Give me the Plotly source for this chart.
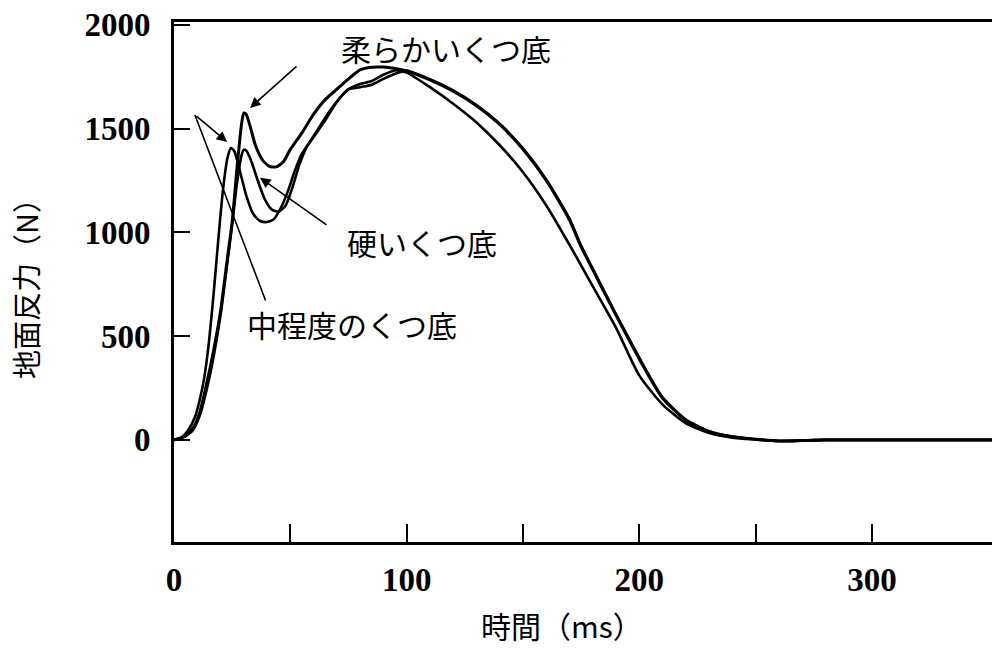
import plotly.graph_objects as go

# ---- data (time in ms, ground reaction force in N) ----
soft_t = [0, 4, 8, 11, 14, 17, 20, 23, 25, 27, 29, 30, 31, 33, 35, 38, 41, 44, 47, 50, 55, 60, 65, 70, 75, 80, 85,
          90, 95, 100, 110, 120, 130, 140, 150, 160, 170, 175, 180, 190, 200, 205, 210, 220, 230, 240, 250, 260,
          270, 280, 300, 352]
soft_f = [0, 15, 55, 130, 270, 430, 620, 880, 1050, 1300, 1520, 1576, 1570, 1500, 1420, 1350, 1318, 1316, 1340,
          1400, 1480, 1570, 1640, 1690, 1740, 1783, 1796, 1797, 1790, 1778, 1735, 1680, 1610, 1520, 1400, 1250,
          1060, 930, 820, 600, 390, 290, 200, 95, 40, 15, 3, -5, -3, 0, 0, 0]

hard_t = [0, 4, 8, 11, 14, 17, 20, 23, 25, 27, 29, 30, 31, 33, 36, 39, 42, 45, 48, 51, 54, 57, 60, 65, 70, 75, 80,
          85, 90, 95, 100, 110, 120, 130, 140, 150, 160, 170, 175, 180, 190, 200, 205, 210, 220, 230, 240, 250,
          260, 270, 280, 300, 352]
hard_f = [0, 12, 45, 115, 240, 400, 600, 860, 1040, 1230, 1370, 1398, 1395, 1350, 1250, 1160, 1110, 1100, 1130,
          1220, 1330, 1410, 1460, 1540, 1630, 1690, 1715, 1730, 1760, 1780, 1780, 1738, 1684, 1614, 1524, 1405,
          1255, 1065, 935, 825, 605, 395, 295, 205, 98, 42, 16, 3, -5, -3, 0, 0, 0]

mid_t = [0, 3, 6, 9, 11, 13, 15, 17, 19, 21, 23, 24.5, 26, 28, 31, 34, 37, 40, 43, 46, 49, 52, 55, 58, 62, 66,
         70, 75, 80, 85, 90, 95, 98, 100, 110, 120, 130, 140, 150, 160, 170, 180, 190, 200, 210, 220, 230, 240,
         250, 260, 270, 280, 300, 352]
mid_f = [0, 10, 45, 110, 190, 300, 470, 700, 960, 1200, 1360, 1407, 1390, 1310, 1180, 1090, 1055, 1050, 1065,
         1120, 1200, 1300, 1380, 1430, 1500, 1570, 1630, 1690, 1700, 1712, 1740, 1765, 1775, 1770, 1700, 1620,
         1530, 1420, 1290, 1130, 940, 740, 540, 310, 170, 80, 33, 11, 2, -5, -3, 0, 0, 0]

x_tickvals = [0, 50, 100, 150, 200, 250, 300]
x_ticktext = ["0", "", "100", "", "200", "", "300"]
y_tickvals = [0, 500, 1000, 1500, 2000]
y_ticktext = ["0", "500", "1000", "1500", "2000"]

labels = ["柔らかいくつ底", "硬いくつ底", "中程度のくつ底"]
label_pos = [(117, 1889), (106.7, 954), (76.6, 559)]
# arrows: (tip x, tip y, tail x, tail y, head)
arrows = [(32.7, 1600, 53.3, 1807, 2), (37.0, 1263, 66.2, 1031, 2),
          (22.8, 1436, 9.0, 1566, 2), (9.0, 1566, 39.6, 665, 0)]

JP = "Noto Sans CJK JP"
NUM = "Liberation Serif"

# page body adds an 8px offset; figure is sized/margined to compensate
OFF = 8
W, H = 1000 - OFF, 650 - OFF
ml, mr, mt, mb = 174 - OFF, 7, 22 - OFF, 108
pw, ph = W - ml - mr, H - mt - mb

fig = go.Figure()
for t, f, w, name in [(mid_t, mid_f, 2.6, labels[2]), (hard_t, hard_f, 2.6, labels[1]), (soft_t, soft_f, 3.0, labels[0])]:
    fig.add_trace(go.Scatter(x=t, y=f, mode="lines", name=name,
                             line=dict(color="black", width=w, shape="spline", smoothing=0.6),
                             showlegend=False, hoverinfo="skip"))

annotations = []
for txt, (ax_, ay_) in zip(labels, label_pos):
    annotations.append(dict(x=ax_, y=ay_, xref="x", yref="y", text=txt, showarrow=False,
                            xanchor="center", yanchor="middle",
                            font=dict(family=JP, size=30, color="black")))
for (tx, ty, sx, sy, head) in arrows:
    annotations.append(dict(x=tx, y=ty, xref="x", yref="y", ax=sx, ay=sy, axref="x", ayref="y",
                            text="", showarrow=True, arrowhead=head, arrowsize=1.3, arrowwidth=1.6,
                            arrowcolor="black", standoff=0, startstandoff=0))


def px_to_paper(px, py):
    return (px - OFF - ml) / pw, (H - mb - (py - OFF)) / ph


xt_x, xt_y = px_to_paper(562, 625)
yt_x, yt_y = px_to_paper(25, 282)
annotations.append(dict(x=xt_x, y=xt_y, xref="paper", yref="paper", text="時間（ms）", showarrow=False,
                        xanchor="center", yanchor="middle",
                        font=dict(family=JP, size=30, color="black")))
annotations.append(dict(x=yt_x, y=yt_y, xref="paper", yref="paper", text="地面反力（N）", showarrow=False,
                        xanchor="center", yanchor="middle",
                        textangle=-90, font=dict(family=JP, size=29, color="black")))

fig.update_layout(
    width=W, height=H,
    margin=dict(l=ml, r=mr, t=mt, b=mb, autoexpand=False),
    paper_bgcolor="white", plot_bgcolor="white",
    annotations=annotations,
    xaxis=dict(range=[0, 352], tickvals=x_tickvals, ticktext=x_ticktext, ticks="inside", ticklen=18,
               tickwidth=2, tickcolor="black", showline=True, linewidth=3, linecolor="black", mirror=True,
               showgrid=False, zeroline=False, ticklabelstandoff=6, ticklabeloverflow="allow",
               automargin=False,
               tickfont=dict(family=NUM, size=33, color="black", weight="bold")),
    yaxis=dict(range=[-492, 2014], tickvals=y_tickvals, ticktext=y_ticktext, ticks="inside", ticklen=16,
               tickwidth=2, tickcolor="black", showline=True, linewidth=3, linecolor="black", mirror=True,
               showgrid=False, zeroline=False, ticklabelstandoff=14, ticklabeloverflow="allow",
               automargin=False,
               tickfont=dict(family=NUM, size=33, color="black", weight="bold")),
)

fig.write_html("out.html")
